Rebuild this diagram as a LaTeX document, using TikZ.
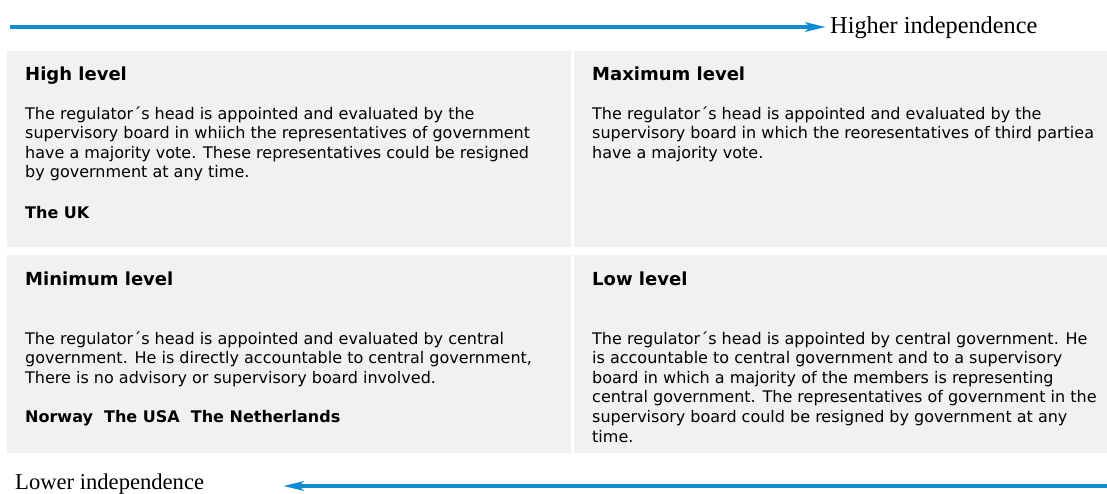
\documentclass[tikz,border=0pt]{standalone}
\usepackage{fontspec}
\setmainfont{Liberation Serif}
\newfontfamily\verd{DejaVu Sans}
\usepackage{tikz}
\usetikzlibrary{arrows.meta,positioning}
\definecolor{panelgray}{RGB}{241,241,241}
\definecolor{flowblue}{RGB}{14,140,212}

\begin{document}
\begin{tikzpicture}[
                x=1pt, y=-1pt,
                panel/.style={rectangle,fill=panelgray,draw=none,inner sep=0,anchor=north west},
                hd/.style={anchor=base west,inner sep=0,font=\verd\bfseries\fontsize{18}{22}\selectfont},
                body/.style={anchor=north west,inner sep=0,align=left,font=\verd\fontsize{16}{19.6}\selectfont},
                ctry/.style={anchor=base west,inner sep=0,font=\verd\bfseries\fontsize{16}{19.6}\selectfont},
                lbl/.style={anchor=west,inner sep=4pt},
                flow/.style={draw=flowblue,line width=4pt,-{Stealth[length=20pt,width=9pt,inset=4pt]}}
            ]
                \useasboundingbox (0,0) rectangle (1107,493);
                \foreach \nm/\x/\y/\w/\h in {high/7/51/564/196, maxi/574/51/533/196,
                                             mini/7/255/564/198, low/574/255/533/198}
                    {
                    \node[panel,minimum width=\w pt,minimum height=\h pt] (\nm) at (\x,\y) {};
                }
                % top row
                \node[hd] (high-t) at (25,80.5) {High level};
                \node[body] (high-b) at (25,106) {The regulator´s head is appointed and evaluated by the\\
                    supervisory board in whiich the representatives of government\\
                    have a majority vote. These representatives could be resigned\\
                    by government at any time.};
                \node[ctry] (high-c) at (25,218) {The UK};
                \node[hd] (maxi-t) at (592,80.5) {Maximum level};
                \node[body] (maxi-b) at (592,106) {The regulator´s head is appointed and evaluated by the\\
                    supervisory board in which the reoresentatives of third partiea\\
                    have a majority vote.};
                % bottom row
                \node[hd] (mini-t) at (25,285.5) {Minimum level};
                \node[body] (mini-b) at (25,331) {The regulator´s head is appointed and evaluated by central\\
                    government. He is directly accountable to central government,\\
                    There is no advisory or supervisory board involved.};
                \node[ctry] (mini-c) at (25,422) {Norway~~The USA~~The Netherlands};
                \node[hd] (low-t) at (592,285.5) {Low level};
                \node[body] (low-b) at (592,331) {The regulator´s head is appointed by central government. He\\
                    is accountable to central government and to a supervisory\\
                    board in which a majority of the members is representing\\
                    central government. The representatives of government in the\\
                    supervisory board could be resigned by government at any\\
                    time.};
                % independence arrows
                \node[lbl,font=\fontsize{24.3}{27}\selectfont] (higher) at (826,28) {Higher independence};
                \coordinate (hs) at (10,27);
                \draw[flow] (hs) -- (higher.west |- hs);
                \node[lbl,font=\fontsize{22.6}{26}\selectfont] (lower) at (11,484) {Lower independence};
                \coordinate (ls) at (1107,486);
                \coordinate (le) at (283,486);
                \draw[flow] (ls) -- (le);
            \end{tikzpicture}
\end{document}
